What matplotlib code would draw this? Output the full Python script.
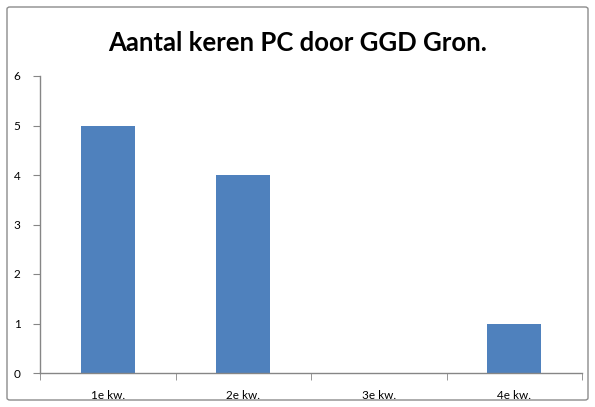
import matplotlib
matplotlib.use("Agg")
import matplotlib.pyplot as plt
from matplotlib.patches import FancyBboxPatch

categories = ["1e kw.", "2e kw.", "3e kw.", "4e kw."]
values = [5, 4, 0, 1]
title = "Aantal keren PC door GGD Gron."

W, H = 595, 407
fig = plt.figure(figsize=(W / 100, H / 100), dpi=100)
plt.rcParams['font.family'] = ['Lato', 'DejaVu Sans']

# outer border
border = FancyBboxPatch((7 / W, 7 / H), (588 - 7) / W, (400 - 7) / H,
                        boxstyle="round,pad=0,rounding_size=0.005",
                        transform=fig.transFigure, fill=False,
                        edgecolor="#8c8c8c", linewidth=1.0)
fig.patches.append(border)

x0, x1 = 40, 582
ytop, ybot = 76, 373
ax = fig.add_axes([x0 / W, 1 - ybot / H, (x1 - x0) / W, (ybot - ytop) / H])

pos = list(range(len(categories)))
ax.bar(pos, values, width=0.395, color="#4F81BD", zorder=2)
ax.set_xlim(-0.5, len(categories) - 0.5)
ax.set_ylim(0, 6)
ax.set_yticks(range(0, 7))
ax.set_xticks(pos)
ax.set_xticklabels(categories)
ax.set_xticks([p - 0.5 for p in range(len(categories) + 1)], minor=True)
ax.tick_params(axis='x', which='major', length=0, pad=12, labelsize=8.5, colors='#000000')
ax.tick_params(axis='x', which='minor', length=5, color='#868686', direction='out')
ax.tick_params(axis='y', length=5, color='#868686', direction='out', labelsize=8.5, pad=9)
for s in ['top', 'right']:
    ax.spines[s].set_visible(False)
for s in ['left', 'bottom']:
    ax.spines[s].set_color('#868686')
    ax.spines[s].set_linewidth(1.0)

fig.text(0.5, 1 - 43 / H, title, ha='center', va='center',
         fontsize=18.5, fontweight='bold', color='black')

fig.savefig("out.png", dpi=100)
